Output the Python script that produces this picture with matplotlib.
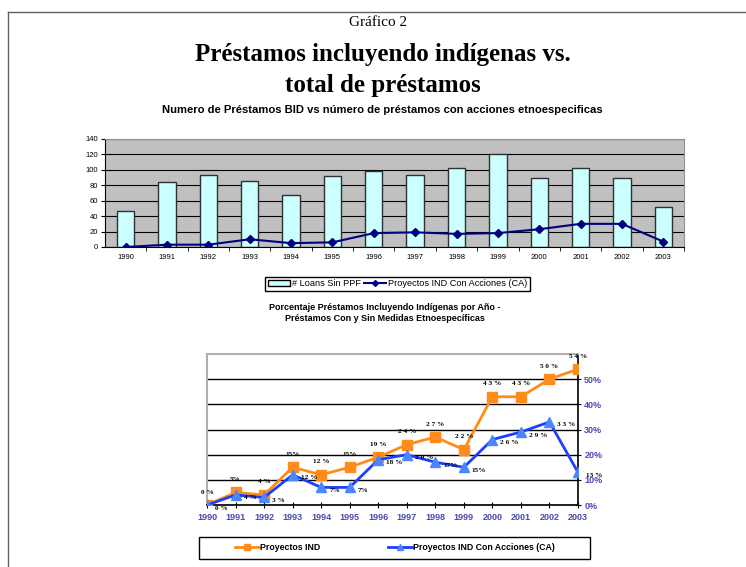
import matplotlib.pyplot as plt
from matplotlib.lines import Line2D
from matplotlib.patches import Patch, Rectangle

# data
years = ['1990', '1991', '1992', '1993', '1994', '1995', '1996',
         '1997', '1998', '1999', '2000', '2001', '2002', '2003']
loans_sin_ppf = [47, 84, 93, 86, 67, 92, 98, 93, 102, 120, 89, 103, 90, 52]
proy_ca_count = [0, 3, 3, 10, 5, 6, 18, 19, 17, 18, 23, 30, 30, 7]

pct_ind = [0, 5, 4, 15, 12, 15, 19, 24, 27, 22, 43, 43, 50, 54]
pct_ca = [0, 4, 3, 12, 7, 7, 18, 20, 17, 15, 26, 29, 33, 13]
lab_ind = ['0 %', '5%', '4 %', '15%', '12 %', '15%', '19 %', '2 4 %', '2 7 %',
           '2 2 %', '4 3 %', '4 3 %', '5 0 %', '5 4 %']
lab_ca = ['0 %', '4 %', '3 %', '12 %', '7%', '7%', '18 %', '2 0 %', '17%',
          '15%', '2 6 %', '2 9 %', '3 3 %', '13 %']

sans = ['Liberation Sans', 'DejaVu Sans']
serif = ['Liberation Serif', 'DejaVu Serif']
W, H = 746, 567

fig = plt.figure(figsize=(7.46, 5.67), dpi=100)

# page border (top and left edges)
fig.add_artist(Line2D([8 / W, 1], [1 - 12 / H] * 2, color='#606060', lw=1))
fig.add_artist(Line2D([8 / W] * 2, [0, 1 - 12 / H], color='#606060', lw=1))

fig.text(0.507, 0.961, 'Gráfico 2', ha='center', va='center', fontsize=11, family=serif)
fig.text(0.513, 0.903, 'Préstamos incluyendo indígenas vs.', ha='center', va='center',
         fontsize=18, fontweight='bold', family=serif)
fig.text(0.513, 0.849, 'total de préstamos', ha='center', va='center',
         fontsize=18, fontweight='bold', family=serif)
fig.text(0.513, 0.806, 'Numero de Préstamos BID vs número de préstamos con acciones etnoespecificas',
         ha='center', va='center', fontsize=8.1, fontweight='bold', family=sans)

# ---- top chart: bars + line
x = list(range(len(years)))
ax1 = fig.add_axes([0.1408, 0.5644, 0.776, 0.1905])
ax1.set_facecolor('#c0c0c0')
ax1.bar(x, loans_sin_ppf, width=0.42, color='#ccffff', edgecolor='#303030', lw=1, zorder=2)
ax1.plot(x, proy_ca_count, color='#000080', marker='D', ms=4.5, lw=1.5, zorder=3)
ax1.set_xlim(-0.5, len(years) - 0.5)
ax1.set_ylim(0, 140)
ax1.set_yticks(range(0, 141, 20))
ax1.yaxis.grid(True, color='black', lw=0.8)
ax1.set_axisbelow(True)
ax1.set_xticks(x)
ax1.set_xticklabels(years, fontsize=5.5, family=sans)
ax1.set_xticks([i + 0.5 for i in x], minor=True)
ax1.tick_params(axis='x', which='major', length=0, pad=5)
ax1.tick_params(axis='x', which='minor', length=3, direction='out', color='black')
ax1.tick_params(axis='y', labelsize=5.5, length=3, pad=2)
for lbl in ax1.get_yticklabels():
    lbl.set_family(sans)
ax1.spines['top'].set_color('#909090')
ax1.spines['right'].set_color('#909090')
ax1.spines['left'].set_color('black')
ax1.spines['bottom'].set_color('black')

h1 = [Patch(facecolor='#ccffff', edgecolor='black'),
      Line2D([], [], color='#000080', marker='D', ms=3, lw=1.5)]
fig.legend(h1, ['# Loans Sin PPF', 'Proyectos IND Con Acciones (CA)'],
           loc='center', bbox_to_anchor=(0.533, 0.4995), ncol=2,
           frameon=True, fancybox=False, edgecolor='black', framealpha=1,
           handlelength=2.4, handletextpad=0.25, columnspacing=0.3,
           borderpad=0.3, prop={'family': sans, 'size': 6.6})

fig.text(0.516, 0.448, 'Porcentaje Préstamos Incluyendo Indígenas por Año -\nPréstamos Con y Sin Medidas Etnoespecíficas',
         ha='center', va='center', fontsize=6.5, fontweight='bold', family=sans,
         linespacing=1.3)

# ---- bottom chart: percentage lines
ax2 = fig.add_axes([0.2775, 0.1093, 0.4973, 0.2664])
ax2.plot(x, pct_ind, color='#ff8c1a', marker='s', ms=6.5, lw=2, zorder=3)
ax2.plot(x, pct_ca, color='#1f3fff', marker='^', ms=7, lw=2,
         markerfacecolor='#4a86ff', markeredgecolor='#4a86ff', zorder=4)
ax2.set_xlim(0, len(years) - 1)
ax2.set_ylim(0, 60)
ax2.set_yticks(range(0, 51, 10))
ax2.yaxis.grid(True, color='black', lw=1)
ax2.set_axisbelow(True)
ax2.yaxis.tick_right()
ax2.set_yticklabels([f'{v}%' for v in range(0, 51, 10)])
ax2.tick_params(axis='y', direction='inout', length=5, labelsize=6.5, labelcolor='#4a4ab4', pad=2)
ax2.set_xticks(x)
ax2.set_xticklabels(years)
ax2.tick_params(axis='x', direction='inout', length=5, labelsize=6.5, labelcolor='#4a4ab4', pad=3)
for lbl in ax2.get_xticklabels() + ax2.get_yticklabels():
    lbl.set_family(sans)
    lbl.set_fontweight('bold')
ax2.spines['top'].set_color('#b0b0b0')
ax2.spines['left'].set_color('#b0b0b0')
ax2.spines['top'].set_linewidth(1.5)
ax2.spines['left'].set_linewidth(1.5)
ax2.spines['right'].set_color('black')
ax2.spines['bottom'].set_color('black')
ax2.spines['right'].set_linewidth(1.2)
ax2.spines['bottom'].set_linewidth(1.2)

for i in x:
    ax2.annotate(lab_ind[i], (i, pct_ind[i]), xytext=(0, 13), textcoords='offset pixels',
                 ha='center', va='center', fontsize=5.2, fontweight='bold',
                 family=serif, annotation_clip=False, zorder=5)
    ax2.annotate(lab_ca[i], (i, pct_ca[i]), xytext=(8, -3), textcoords='offset pixels',
                 ha='left', va='center', fontsize=5.2, fontweight='bold',
                 family=serif, annotation_clip=False, zorder=5)

# bottom legend: frame drawn by hand, entries spread out inside
fig.add_artist(Rectangle((199 / W, 1 - 559 / H), 391 / W, 22 / H, transform=fig.transFigure,
                         facecolor='white', edgecolor='black', lw=1))
h2 = [Line2D([], [], color='#ff8c1a', marker='s', ms=4, lw=2),
      Line2D([], [], color='#1f3fff', marker='^', ms=4.5, lw=2,
             markerfacecolor='#4a86ff', markeredgecolor='#4a86ff')]
fig.legend(h2, ['Proyectos IND', 'Proyectos IND Con Acciones (CA)'],
           loc='center', bbox_to_anchor=(395 / W, 1 - 548 / H), ncol=2,
           frameon=False, handlelength=2.7, handletextpad=0.15, columnspacing=7.8,
           prop={'family': sans, 'size': 6.3, 'weight': 'bold'})

fig.savefig('out.png', dpi=100)
